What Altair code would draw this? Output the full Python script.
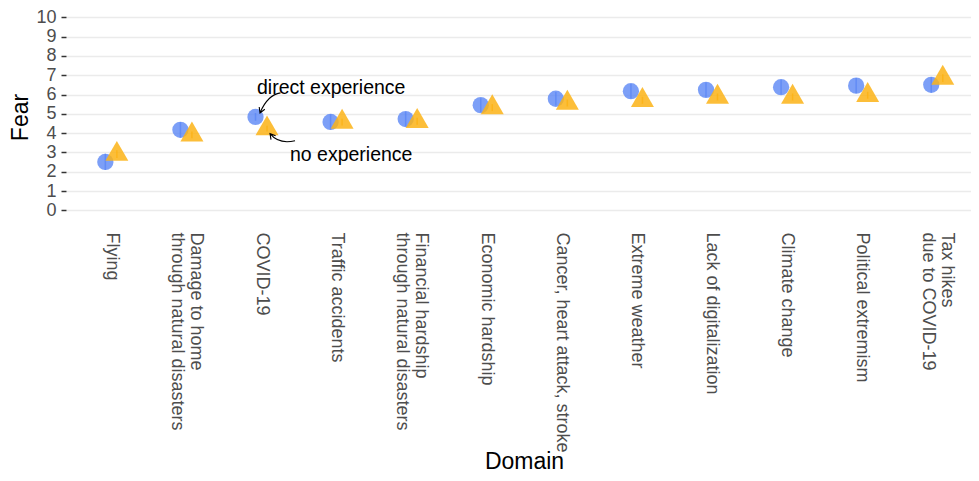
import altair as alt
import pandas as pd

# ---- data ----
categories = [
    "Flying",
    "Damage to home\nthrough natural disasters",
    "COVID-19",
    "Traffic accidents",
    "Financial hardship\nthrough natural disasters",
    "Economic hardship",
    "Cancer, heart attack, stroke",
    "Extreme weather",
    "Lack of digitalization",
    "Climate change",
    "Political extremism",
    "Tax hikes\ndue to COVID-19",
]
direct_fear = [2.51, 4.17, 4.84, 4.58, 4.73, 5.45, 5.78, 6.17, 6.24, 6.38, 6.46, 6.50]
direct_half_ci = [0.42, 0.40, 0.20, 0.40, 0.38, 0.35, 0.35, 0.38, 0.38, 0.38, 0.40, 0.40]
no_fear = [2.91, 3.91, 4.23, 4.57, 4.61, 5.32, 5.56, 5.70, 5.87, 5.87, 5.96, 6.85]
no_half_ci = [0.20, 0.18, 0.15, 0.18, 0.18, 0.18, 0.18, 0.18, 0.18, 0.18, 0.18, 0.20]
y_ticks = list(range(0, 11))
ann_direct = "direct experience"
ann_no = "no experience"
ann_domain = "COVID-19"

df_direct = pd.DataFrame({
    "Domain": categories,
    "Fear": direct_fear,
    "lo": [v - e for v, e in zip(direct_fear, direct_half_ci)],
    "hi": [v + e for v, e in zip(direct_fear, direct_half_ci)],
})
df_no = pd.DataFrame({
    "Domain": categories,
    "Fear": no_fear,
    "lo": [v - e for v, e in zip(no_fear, no_half_ci)],
    "hi": [v + e for v, e in zip(no_fear, no_half_ci)],
})
i_ann = categories.index(ann_domain)
df_ann_direct = pd.DataFrame({"Domain": [ann_domain], "Fear": [direct_fear[i_ann]], "label": [ann_direct]})
df_ann_no = pd.DataFrame({"Domain": [ann_domain], "Fear": [no_fear[i_ann]], "label": [ann_no]})

FONT = "Liberation Sans"
BLUE = "#5B87F5"
GOLD = "#FCB316"
TRI = "M0,-1L0.866,0.5L-0.866,0.5Z"
ARROW1 = "M25,-24Q12,-22 4.5,-4M9.3,-7.6L4.5,-4L3.7,-9.9"
ARROW2 = "M28,12Q12,16 3,5M4,10.9L3,5L8.6,7.1"

xscale = alt.Scale(type="point", domain=categories, padding=0.6)
yscale = alt.Scale(domain=[-0.5, 10.17], nice=False, zero=False)

x_axis = alt.Axis(
    title="Domain", titleFont=FONT, titleFontSize=23, titleFontWeight="normal",
    titleColor="black", titleBaseline="alphabetic", titleY=248,
    labelAngle=90, labelAlign="left", labelBaseline="middle",
    labelExpr="split(datum.label, '\\n')", labelLineHeight=19,
    labelOffset={"condition": {"test": "indexof(datum.value, '\\n') >= 0", "value": 9.5}, "value": 0},
    labelFont=FONT, labelFontSize=18, labelColor="#4D4D4D", labelPadding=12,
    labelLimit=400, labelOverlap=False,
    ticks=False, tickSize=0, domain=False, grid=False,
)
y_axis = alt.Axis(
    title="Fear", titleFont=FONT, titleFontSize=23, titleFontWeight="normal",
    titleColor="black", titlePadding=3,
    values=y_ticks, tickCount=11, labelFont=FONT, labelFontSize=18, labelColor="#4D4D4D",
    labelOverlap=False,
    labelPadding=5, tickSize=5, tickWidth=1.5, tickColor="#333333",
    domain=False, grid=True, gridColor="#EBEBEB", gridWidth=1.6,
)

X = alt.X("Domain:N", scale=xscale, axis=x_axis, sort=categories)


def Yf(field):
    return alt.Y(field, type="quantitative", scale=yscale, axis=y_axis)


circles = alt.Chart(df_direct).mark_point(
    shape="circle", filled=True, size=265, color=BLUE, opacity=0.8, xOffset=-5.7
).encode(x=X, y=Yf("Fear"))
circle_ci = alt.Chart(df_direct).mark_rule(
    color=BLUE, opacity=0.8, strokeWidth=1.5, xOffset=-5.7
).encode(x=X, y=Yf("lo"), y2="hi:Q")
triangles = alt.Chart(df_no).mark_point(
    shape=TRI, filled=True, size=705, color=GOLD, opacity=0.85, xOffset=5.8
).encode(x=X, y=Yf("Fear"))
tri_ci = alt.Chart(df_no).mark_rule(
    color=GOLD, opacity=0.85, strokeWidth=1.5, xOffset=5.8
).encode(x=X, y=Yf("lo"), y2="hi:Q")

txt_direct = alt.Chart(df_ann_direct).mark_text(
    font=FONT, fontSize=19.5, color="black", align="center", baseline="alphabetic",
    dx=70, dy=-23
).encode(x=X, y=Yf("Fear"), text="label:N")
txt_no = alt.Chart(df_ann_no).mark_text(
    font=FONT, fontSize=19.5, color="black", align="center", baseline="alphabetic",
    dx=90, dy=32
).encode(x=X, y=Yf("Fear"), text="label:N")
arrow_direct = alt.Chart(df_ann_direct).mark_point(
    shape=ARROW1, size=4, filled=False, color="black", opacity=1, strokeWidth=1.1,
    xOffset=-5.7
).encode(x=X, y=Yf("Fear"))
arrow_no = alt.Chart(df_ann_no).mark_point(
    shape=ARROW2, size=4, filled=False, color="black", opacity=1, strokeWidth=1.1,
    xOffset=5.8
).encode(x=X, y=Yf("Fear"))

chart = alt.layer(
    circles, circle_ci, triangles, tri_ci, txt_direct, txt_no, arrow_direct, arrow_no
).properties(
    width=916, height=206,
    autosize=alt.AutoSizeParams(type="none"),
    padding={"left": 58, "top": 6, "right": -11, "bottom": 253},
    background="white",
).configure_view(stroke=None)

chart.save("out.html", embed_options={"renderer": "svg", "actions": False})
